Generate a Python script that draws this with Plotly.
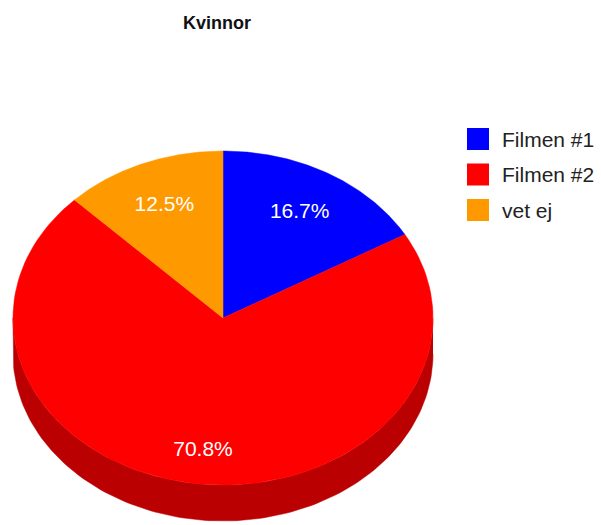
import numpy as np
import plotly.graph_objects as go

# Survey answers (women)
title = "Kvinnor"
categories = ["Filmen #1", "Filmen #2", "vet ej"]
values = [4, 17, 3]
colors = ["#0000ff", "#ff0000", "#ff9900"]

W, H = 601, 525
# ellipse geometry of the tilted pie (pixel units)
CX, CY, RX, RY, DEPTH = 223, 318, 210, 167, 36
LABEL_R = 0.73
SIDE_SHADE = 0.73


def darken(hex_color, k):
    r, g, b = (int(hex_color[i:i + 2], 16) for i in (1, 3, 5))
    return "#%02x%02x%02x" % (int(r * k), int(g * k), int(b * k))


def arc(a0, a1, dy=0.0, n=120):
    t = np.radians(np.linspace(a0, a1, n))
    return CX + RX * np.sin(t), CY - RY * np.cos(t) + dy


total = sum(values)
shares = [v / total for v in values]
bounds = np.concatenate([[0.0], np.cumsum(shares) * 360.0])

fig = go.Figure()

# visible rim of the pie (front half, 90..270 degrees clockwise from top)
for i, c in enumerate(colors):
    a0, a1 = max(bounds[i], 90.0), min(bounds[i + 1], 270.0)
    if a1 <= a0:
        continue
    xt, yt = arc(a0, a1)
    xb, yb = arc(a1, a0, DEPTH)
    fig.add_trace(go.Scatter(
        x=np.concatenate([xt, xb]), y=np.concatenate([yt, yb]),
        fill="toself", fillcolor=darken(c, SIDE_SHADE), mode="lines",
        line=dict(width=0.5, color=darken(c, SIDE_SHADE)),
        hoverinfo="skip", showlegend=False))

# top faces of the slices
for i, (name, c) in enumerate(zip(categories, colors)):
    xa, ya = arc(bounds[i], bounds[i + 1])
    fig.add_trace(go.Scatter(
        x=np.concatenate([[CX], xa, [CX]]), y=np.concatenate([[CY], ya, [CY]]),
        fill="toself", fillcolor=c, mode="lines", line=dict(width=0.5, color=c),
        name=name, hoverinfo="name", showlegend=False))

# percentage labels (front-facing labels sit a little lower, toward the rim)
mids = np.radians((bounds[:-1] + bounds[1:]) / 2)
front = np.clip(-np.cos(mids), 0, None)
fig.add_trace(go.Scatter(
    x=CX + LABEL_R * RX * np.sin(mids),
    y=CY - LABEL_R * RY * np.cos(mids) + front * DEPTH * 0.33,
    mode="text",
    text=[f"{s * 100:.1f}%" for s in shares],
    textposition="middle center",
    textfont=dict(family="Liberation Sans, Arial, sans-serif", size=21, color="#ffffff"),
    hoverinfo="skip", showlegend=False))

# legend: coloured squares with labels
shapes, annotations = [], []
for i, (name, c) in enumerate(zip(categories, colors)):
    yc = 139 + i * 35.5
    shapes.append(dict(type="rect", xref="x", yref="y",
                       x0=467, x1=489, y0=yc - 11, y1=yc + 11,
                       fillcolor=c, line=dict(width=0)))
    annotations.append(dict(x=500, y=yc, xref="x", yref="y", text=name,
                            showarrow=False, xanchor="left", yanchor="middle",
                            font=dict(family="Liberation Sans, Arial, sans-serif",
                                      size=21, color="#222222")))

annotations.append(dict(x=217, y=23, xref="x", yref="y", text=f"<b>{title}</b>",
                        showarrow=False, xanchor="center", yanchor="middle",
                        font=dict(family="Liberation Sans, Arial, sans-serif",
                                  size=18, color="#111111")))

fig.update_layout(
    width=W, height=H, margin=dict(l=0, r=0, t=0, b=0),
    paper_bgcolor="#ffffff", plot_bgcolor="#ffffff",
    xaxis=dict(range=[0, W], visible=False, fixedrange=True),
    yaxis=dict(range=[H, 0], visible=False, fixedrange=True),
    shapes=shapes, annotations=annotations, showlegend=False,
)

fig.write_html("out.html")
